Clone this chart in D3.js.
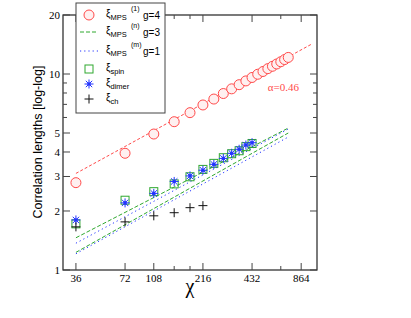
<!DOCTYPE html>
<html>
<head>
<meta charset="utf-8">
<script src="https://cdn.jsdelivr.net/npm/d3@7"></script>
<style>
  body { margin: 0; background: #fff; }
  .tick-label { font-family: "Liberation Serif", "Times New Roman", serif; font-size: 11px; }
  .axis-label { font-family: "Liberation Sans", Arial, sans-serif; }
  .legend-text { font-family: "Liberation Sans", Arial, sans-serif; }
</style>
</head>
<body>
<div id="canvas"></div>
<script>
"use strict";

let svgWidth = 411;
let svgHeight = 318;

/* Data */
let chiMps = [36, 72, 108, 144, 180, 216, 252, 288, 324, 360, 396, 432, 468, 504, 540, 576, 612, 648, 684, 720];
let xiMps1 = [2.79, 3.94, 4.94, 5.71, 6.35, 6.95, 7.45, 7.95, 8.4, 8.82, 9.22, 9.6, 9.97, 10.3, 10.65, 10.95, 11.25, 11.55, 11.85, 12.15];

let chiLow = [36, 72, 108, 144, 180, 216, 252, 288, 324, 360, 396, 432];
let xiSpin = [1.72, 2.27, 2.51, 2.75, 2.99, 3.26, 3.50, 3.74, 3.92, 4.06, 4.26, 4.42];
let xiDimer = [1.80, 2.20, 2.46, 2.83, 3.02, 3.23, 3.46, 3.71, 3.94, 4.13, 4.34, 4.46];

let chiCh = [36, 72, 108, 144, 180, 216];
let xiCh = [1.66, 1.76, 1.89, 1.96, 2.08, 2.13];

// fitted power laws, end points only
let fitRedChi = [36, 1000];
let fitRedXi = [3.11, 14.2];
let fitChi = [36, 720];
let fitGreenA = [1.46, 5.30];
let fitGreenB = [1.23, 5.00];
let fitBlueA = [1.37, 5.24];
let fitBlueB = [1.21, 4.77];

let xMajor = [36, 72, 108, 216, 432, 864];
let xMinor = [144, 180, 648];
let yMajor = [1, 2, 3, 4, 5, 10, 20];
let yMinor = [6, 7, 8, 9];

let red = "#ff4a4a";
let green = "#2fa82f";
let blue = "#2233ff";

/* Canvas */
let svg = d3.select("#canvas")
  .append("svg")
  .attr("width", svgWidth)
  .attr("height", svgHeight);

/* Scales */
let x = d3.scaleLog().domain([30, 1080]).range([63, 317]);
let y = d3.scaleLog().domain([1, 20]).range([270, 15]);

/* Frame */
svg.append("rect")
  .attr("x", x.range()[0])
  .attr("y", y.range()[1])
  .attr("width", x.range()[1] - x.range()[0])
  .attr("height", y.range()[0] - y.range()[1])
  .attr("fill", "none")
  .attr("stroke", "#222")
  .attr("stroke-width", 1.2);

/* Ticks */
function xTicks(list, len) {
  list.forEach(v => {
    svg.append("line")
      .attr("x1", x(v)).attr("x2", x(v))
      .attr("y1", 270).attr("y2", 270 - len)
      .attr("stroke", "#444");
    svg.append("line")
      .attr("x1", x(v)).attr("x2", x(v))
      .attr("y1", 15).attr("y2", 15 + len)
      .attr("stroke", "#444");
  });
}
xTicks(xMajor, 7);
xTicks(xMinor, 4);

function yTicks(list, len) {
  list.forEach(v => {
    svg.append("line")
      .attr("x1", 63).attr("x2", 63 + len)
      .attr("y1", y(v)).attr("y2", y(v))
      .attr("stroke", "#444");
    svg.append("line")
      .attr("x1", 317).attr("x2", 317 - len)
      .attr("y1", y(v)).attr("y2", y(v))
      .attr("stroke", "#444");
  });
}
yTicks(yMajor, 7);
yTicks(yMinor, 4);

xMajor.forEach(v => {
  svg.append("text")
    .attr("x", x(v))
    .attr("y", 282)
    .attr("text-anchor", "middle")
    .classed("tick-label", true)
    .text(v);
});

yMajor.forEach(v => {
  svg.append("text")
    .attr("x", 60)
    .attr("y", y(v) + 4)
    .attr("text-anchor", "end")
    .classed("tick-label", true)
    .text(v);
});

/* Axis labels */
svg.append("text")
  .attr("x", 190)
  .attr("y", 293)
  .attr("text-anchor", "middle")
  .attr("font-size", "20px")
  .attr("font-family", "'Liberation Serif', serif")
  .text("χ");

svg.append("text")
  .attr("transform", "translate(42," + 142 + ") rotate(-90)")
  .attr("text-anchor", "middle")
  .attr("font-size", "12.5px")
  .classed("axis-label", true)
  .text("Correlation lengths [log-log]");

/* Fit lines */
let line = d3.line()
  .x(d => x(d[0]))
  .y(d => y(d[1]));

function fit(chis, xis, color, dash) {
  svg.append("path")
    .datum(chis.map((c, i) => [c, xis[i]]))
    .attr("d", line)
    .attr("fill", "none")
    .attr("stroke", color)
    .attr("stroke-width", 1)
    .attr("stroke-dasharray", dash);
}
fit(fitRedChi, fitRedXi, red, "3,2");
fit(fitChi, fitGreenA, green, "4,2");
fit(fitChi, fitGreenB, green, "4,2");
fit(fitChi, fitBlueA, blue, "1.2,3");
fit(fitChi, fitBlueB, blue, "1.2,3");

/* Markers */
function circleMark(g, cx, cy) {
  g.append("circle")
    .attr("cx", cx).attr("cy", cy).attr("r", 5)
    .attr("fill", "#fff0f0")
    .attr("stroke", red)
    .attr("stroke-width", 1);
}
function squareMark(g, cx, cy) {
  g.append("rect")
    .attr("x", cx - 4).attr("y", cy - 4)
    .attr("width", 8).attr("height", 8)
    .attr("fill", "none")
    .attr("stroke", green)
    .attr("stroke-width", 1);
}
function starMark(g, cx, cy) {
  let s = 4.5, d = 3.2;
  let segs = [[-s, 0, s, 0], [0, -s, 0, s], [-d, -d, d, d], [-d, d, d, -d]];
  segs.forEach(p => {
    g.append("line")
      .attr("x1", cx + p[0]).attr("y1", cy + p[1])
      .attr("x2", cx + p[2]).attr("y2", cy + p[3])
      .attr("stroke", blue)
      .attr("stroke-width", 1);
  });
  g.append("circle")
    .attr("cx", cx).attr("cy", cy).attr("r", 1.8)
    .attr("fill", blue);
}
function plusMark(g, cx, cy) {
  let s = 4.5;
  g.append("line")
    .attr("x1", cx - s).attr("x2", cx + s)
    .attr("y1", cy).attr("y2", cy)
    .attr("stroke", "#111");
  g.append("line")
    .attr("x1", cx).attr("x2", cx)
    .attr("y1", cy - s).attr("y2", cy + s)
    .attr("stroke", "#111");
}

chiMps.forEach((c, i) => circleMark(svg, x(c), y(xiMps1[i])));
chiLow.forEach((c, i) => squareMark(svg, x(c), y(xiSpin[i])));
chiLow.forEach((c, i) => starMark(svg, x(c), y(xiDimer[i])));
chiCh.forEach((c, i) => plusMark(svg, x(c), y(xiCh[i])));

/* Alpha label */
svg.append("text")
  .attr("x", 299)
  .attr("y", 91)
  .attr("text-anchor", "end")
  .attr("fill", red)
  .classed("tick-label", true)
  .text("α=0.46");

/* Legend */
let legend = svg.append("g");

legend.append("rect")
  .attr("x", 76).attr("y", 3)
  .attr("width", 89).attr("height", 110)
  .attr("fill", "#fff")
  .attr("stroke", "#444")
  .attr("stroke-width", 1);

let legendRows = [
  { y: 15, sub: "MPS", sup: "(1)", g: "g=4", kind: "circle" },
  { y: 32, sub: "MPS", sup: "(n)", g: "g=3", kind: "dash" },
  { y: 51, sub: "MPS", sup: "(m)", g: "g=1", kind: "dot" },
  { y: 69, sub: "spin", sup: "", g: "", kind: "square" },
  { y: 84, sub: "dimer", sup: "", g: "", kind: "star" },
  { y: 99, sub: "ch", sup: "", g: "", kind: "plus" }
];

legendRows.forEach(row => {
  if (row.kind === "circle") circleMark(legend, 89, row.y);
  if (row.kind === "square") squareMark(legend, 89, row.y);
  if (row.kind === "star") starMark(legend, 89, row.y);
  if (row.kind === "plus") plusMark(legend, 89, row.y);
  if (row.kind === "dash" || row.kind === "dot") {
    legend.append("line")
      .attr("x1", 80).attr("x2", 98)
      .attr("y1", row.y).attr("y2", row.y)
      .attr("stroke", row.kind === "dash" ? green : blue)
      .attr("stroke-dasharray", row.kind === "dash" ? "4,2" : "1.2,3");
  }

  let t = legend.append("text")
    .attr("x", 106)
    .attr("y", row.y + 2)
    .attr("font-size", "10px")
    .classed("legend-text", true);
  t.append("tspan").text("ξ");
  t.append("tspan")
    .attr("dy", 3)
    .attr("font-size", "7.5px")
    .text(row.sub);
  if (row.sup) {
    legend.append("text")
      .attr("x", 131)
      .attr("y", row.y - 4)
      .attr("font-size", "7px")
      .classed("legend-text", true)
      .text(row.sup);
    legend.append("text")
      .attr("x", 143)
      .attr("y", row.y + 4)
      .attr("font-size", "10px")
      .classed("legend-text", true)
      .text(row.g);
  }
});
</script>
</body>
</html>
